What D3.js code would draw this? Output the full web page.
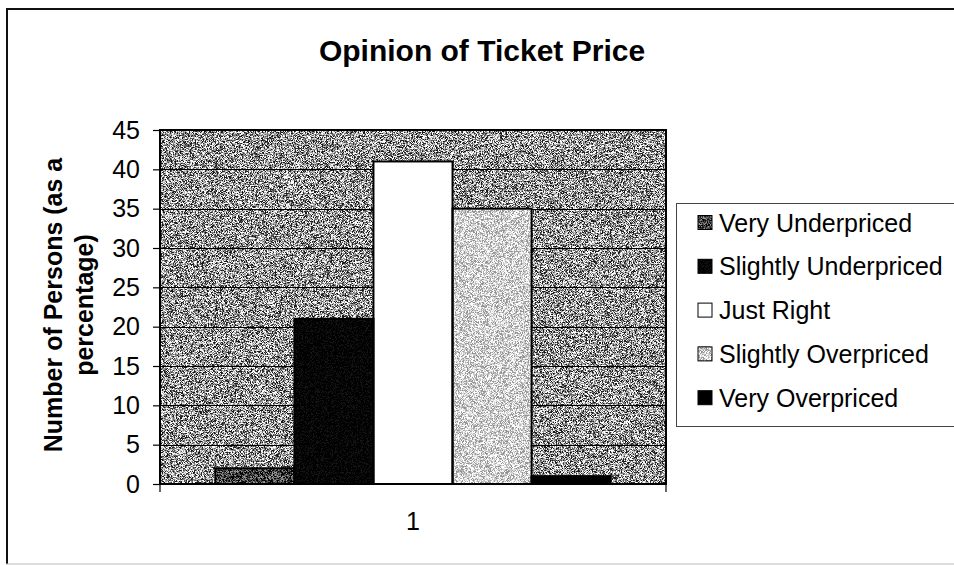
<!DOCTYPE html>
<html>
<head>
<meta charset="utf-8">
<script src="https://cdn.jsdelivr.net/npm/d3@7"></script>
<style>
  html, body { margin: 0; padding: 0; background: #fff; }
  svg { display: block; font-family: Arial, "Liberation Sans", sans-serif; }
</style>
</head>
<body>
<svg id="chart" width="954" height="565"></svg>
<script>
// Survey responses, percentage of persons per opinion
const categories = ["1"];
const seriesNames = ["Very Underpriced", "Slightly Underpriced", "Just Right", "Slightly Overpriced", "Very Overpriced"];
const seriesValues = [2, 21, 41, 35, 1];
const yTicks = [0, 5, 10, 15, 20, 25, 30, 35, 40, 45];
const seriesFills = ["#3f3f3f", "#020202", "#ffffff", "#d2d2d2", "#000000"];

const W = 954, H = 565;
const plot = { left: 160, right: 666, top: 130, bottom: 484 };

const svg = d3.select("#chart");

// grain filters: add per-pixel noise on top of a flat fill
const defs = svg.append("defs");
function grainFilter(id, amount, seed) {
  const f = defs.append("filter").attr("id", id)
    .attr("x", 0).attr("y", 0).attr("width", 1).attr("height", 1)
    .attr("color-interpolation-filters", "sRGB");
  f.append("feTurbulence").attr("type", "fractalNoise")
    .attr("baseFrequency", 1.8).attr("numOctaves", 1).attr("seed", seed).attr("result", "n");
  const s = 4, t = 0.5 - s * 0.5;
  f.append("feColorMatrix").attr("in", "n").attr("type", "matrix")
    .attr("values", `${s} 0 0 0 ${t}  ${s} 0 0 0 ${t}  ${s} 0 0 0 ${t}  0 0 0 0 1`)
    .attr("result", "g");
  f.append("feComposite").attr("in", "SourceGraphic").attr("in2", "g")
    .attr("operator", "arithmetic")
    .attr("k1", 0).attr("k2", 1).attr("k3", amount).attr("k4", -amount * 0.5);
}
grainFilter("grainBg", 1.0, 7);
grainFilter("grainBar", 0.7, 11);
grainFilter("grainLight", 0.5, 5);
grainFilter("grainDark", 0.15, 3);

// outer chart frame
svg.append("rect").attr("width", W).attr("height", H).attr("fill", "#fff");
svg.append("line").attr("x1", 7).attr("x2", 7).attr("y1", 9).attr("y2", 564)
  .attr("stroke", "#111").attr("stroke-width", 2);
svg.append("line").attr("x1", 6).attr("x2", W).attr("y1", 9).attr("y2", 9)
  .attr("stroke", "#111").attr("stroke-width", 2);
svg.append("line").attr("x1", 6).attr("x2", W).attr("y1", 564).attr("y2", 564)
  .attr("stroke", "#bbb").attr("stroke-width", 1);

// title
svg.append("text").attr("x", 482).attr("y", 61).attr("text-anchor", "middle")
  .attr("font-size", 30).attr("font-weight", "bold").attr("fill", "#000")
  .text("Opinion of Ticket Price");

// scales
const y = d3.scaleLinear().domain([0, 45]).range([plot.bottom, plot.top]);
const x0 = d3.scaleBand().domain(categories).range([plot.left, plot.right]);
const x1 = d3.scaleBand().domain(seriesNames).range([0, x0.bandwidth()])
  .paddingInner(0).paddingOuter(0.7);

// plot area background
svg.append("rect")
  .attr("x", plot.left).attr("y", plot.top)
  .attr("width", plot.right - plot.left).attr("height", plot.bottom - plot.top)
  .attr("fill", "#979797").attr("filter", "url(#grainBg)");

// gridlines
svg.append("g").selectAll("line")
  .data(yTicks.filter(v => v > 0 && v < 45))
  .join("line")
  .attr("x1", plot.left).attr("x2", plot.right)
  .attr("y1", d => Math.round(y(d)) + 0.5).attr("y2", d => Math.round(y(d)) + 0.5)
  .attr("stroke", "#000").attr("stroke-width", 1.2);

// bars
const grainIds = ["grainBar", "grainDark", null, "grainLight", null];
const barData = seriesNames.map((name, i) => ({ name, value: seriesValues[i], i }));
const barG = svg.append("g").attr("transform", `translate(${x0(categories[0])},0)`);
barG.selectAll("rect.fill").data(barData).join("rect")
  .attr("class", "fill")
  .attr("x", d => x1(d.name)).attr("width", x1.bandwidth())
  .attr("y", d => y(d.value)).attr("height", d => y(0) - y(d.value))
  .attr("fill", d => seriesFills[d.i])
  .attr("filter", d => grainIds[d.i] ? `url(#${grainIds[d.i]})` : null);
barG.selectAll("rect.edge").data(barData).join("rect")
  .attr("class", "edge")
  .attr("x", d => x1(d.name)).attr("width", x1.bandwidth())
  .attr("y", d => y(d.value)).attr("height", d => y(0) - y(d.value))
  .attr("fill", "none").attr("stroke", "#000").attr("stroke-width", 2);

// plot border
svg.append("rect")
  .attr("x", plot.left).attr("y", plot.top)
  .attr("width", plot.right - plot.left).attr("height", plot.bottom - plot.top)
  .attr("fill", "none").attr("stroke", "#000").attr("stroke-width", 2);

// y axis
const yAxis = d3.axisLeft(y).tickValues(yTicks).tickSize(7).tickPadding(13)
  .tickFormat(d3.format("d"));
const yg = svg.append("g").attr("transform", `translate(${plot.left},0)`).call(yAxis);
yg.select(".domain").remove();
yg.selectAll(".tick line").attr("stroke", "#000").attr("stroke-width", 1.2);
yg.selectAll(".tick text").attr("font-size", 25).attr("fill", "#000")
  .attr("font-family", "Arial, 'Liberation Sans', sans-serif");

// x axis: category label with boundary ticks
const xAxis = d3.axisBottom(x0).tickSize(0).tickPadding(28);
const xg = svg.append("g").attr("transform", `translate(0,${plot.bottom})`).call(xAxis);
xg.select(".domain").remove();
xg.selectAll(".tick text").attr("font-size", 25).attr("fill", "#000")
  .attr("font-family", "Arial, 'Liberation Sans', sans-serif");
svg.append("g").selectAll("line")
  .data([plot.left, plot.right])
  .join("line")
  .attr("x1", d => d).attr("x2", d => d)
  .attr("y1", plot.bottom).attr("y2", plot.bottom + 8)
  .attr("stroke", "#000").attr("stroke-width", 1.2);

// y axis title
const yTitle = svg.append("text")
  .attr("transform", "translate(62,305) rotate(-90)")
  .attr("text-anchor", "middle").attr("font-size", 25).attr("font-weight", "bold")
  .attr("fill", "#000");
yTitle.append("tspan").attr("x", 0).attr("y", 0).text("Number of Persons (as a");
yTitle.append("tspan").attr("x", 0).attr("y", 31).text("percentage)");

// legend
const legend = svg.append("g");
legend.append("rect").attr("x", 676.5).attr("y", 203.5).attr("width", 300).attr("height", 223)
  .attr("fill", "#fff").attr("stroke", "#444").attr("stroke-width", 1);
const legendRows = legend.selectAll("g.row").data(barData).join("g")
  .attr("class", "row")
  .attr("transform", d => `translate(0,${222.5 + d.i * 43.8})`);
legendRows.append("rect")
  .attr("x", 698).attr("y", -7).attr("width", 14).attr("height", 14)
  .attr("fill", d => seriesFills[d.i])
  .attr("filter", d => grainIds[d.i] ? `url(#${grainIds[d.i]})` : null);
legendRows.append("rect")
  .attr("x", 698).attr("y", -7).attr("width", 14).attr("height", 14)
  .attr("fill", "none").attr("stroke", "#000").attr("stroke-width", 1);
legendRows.append("text")
  .attr("x", 719).attr("y", 0).attr("dy", "0.36em")
  .attr("font-size", 25).attr("fill", "#000")
  .text(d => d.name);
</script>
</body>
</html>
